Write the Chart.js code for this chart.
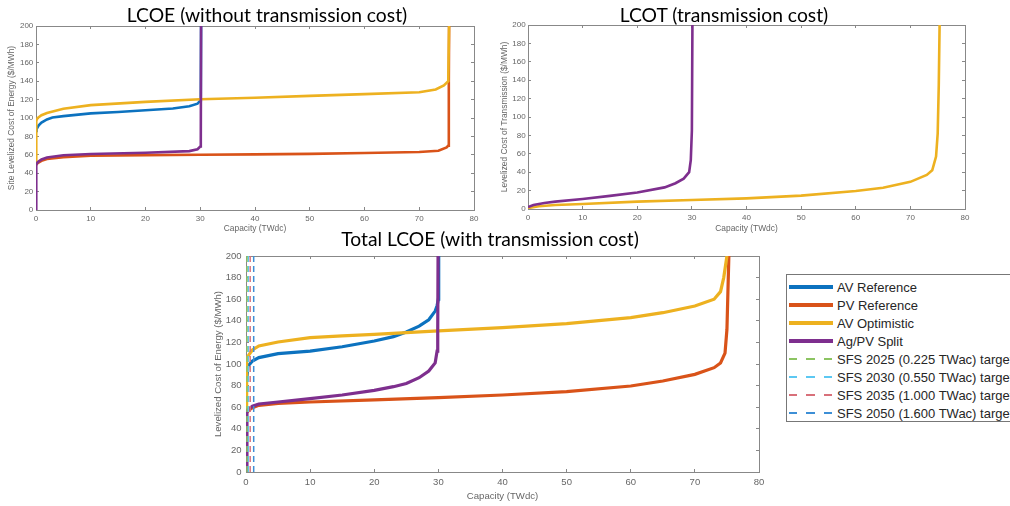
<!DOCTYPE html>
<html>
<head>
<meta charset="utf-8">
<script src="https://cdn.jsdelivr.net/npm/chart.js@4.4.1/dist/chart.umd.min.js"></script>
<style>
  body { margin: 0; width: 1010px; height: 506px; position: relative; overflow: hidden; background: #fff; }
  canvas { position: absolute; }
  .title { position: absolute; width: 400px; margin-left: -200px; text-align: center; font-family: Lato, "Open Sans", sans-serif; font-size: 19.3px; line-height: 1; color: #000; white-space: nowrap; }
  #legend { position: absolute; left: 786px; top: 274px; width: 240px; height: 143px; border: 1px solid #777; padding-top: 3px; box-sizing: content-box; font-family: "Liberation Sans", Arial, sans-serif; font-size: 13px; color: #262626; }
  #legend .row { height: 18px; display: flex; align-items: center; white-space: nowrap; }
  #legend .sw { width: 44px; margin: 0 4px 0 2px; flex: none; }
</style>
</head>
<body>
<canvas id="lcoeChart" width="490" height="234" style="left:0; top:0;"></canvas>
<canvas id="lcotChart" width="520" height="234" style="left:490px; top:0;"></canvas>
<canvas id="totalChart" width="580" height="272" style="left:200px; top:230px;"></canvas>

<div class="title" style="left:267px; top:4.6px;">LCOE (without transmission cost)</div>
<div class="title" style="left:724px; top:4.6px;">LCOT (transmission cost)</div>
<div class="title" style="left:490px; top:228.6px;">Total LCOE (with transmission cost)</div>
<div id="legend"></div>

<script>
// capacity (TWdc), cost ($/MWh) pairs

// LCOE without transmission
const lcoeAvRef = [[0, 86], [0.1, 88], [0.5, 92], [1, 95], [2, 98.4], [3, 100.5], [5, 102], [10, 105], [15, 106.5],
    [20, 108.5], [25, 110.3], [28, 112.8], [29.5, 115.5], [30, 119], [30.1, 122], [30.15, 200]];
const lcoePvRef = [[0, 49], [0.3, 51], [1, 53.5], [2, 55.5], [5, 57.5], [10, 59], [20, 59.7], [30, 60], [40, 60.5],
    [50, 61], [60, 62], [70, 63], [73.5, 64.4], [75, 68], [75.3, 70], [75.4, 140], [75.45, 200]];
const lcoeAvOpt = [[0, 50], [0.05, 97], [0.3, 100], [1, 103], [2, 105.5], [5, 110], [10, 114], [20, 117.5], [30, 120.4],
    [40, 122], [50, 124], [60, 126], [70, 128], [73, 131], [74.5, 135.5], [75.3, 140], [75.45, 200]];
const lcoeSplit = [[0, 0], [0.05, 49], [0.3, 52], [1, 55], [2, 57], [5, 59.5], [10, 60.8], [20, 62.2], [28, 64],
    [29.5, 66], [30, 69], [30.1, 75], [30.15, 200]];

// LCOT (transmission cost): Ag/PV split and AV optimistic curves
const lcotSplit = [[0, 2], [1, 4.3], [3, 6.5], [5, 8], [10, 10.9], [15, 14.3], [20, 18], [25, 23.5], [27, 28],
    [28.5, 33], [29.5, 40], [29.8, 53], [30, 85], [30.1, 200]];
const lcotAvOpt = [[0, 1], [2, 3], [5, 4.3], [10, 5.5], [20, 8], [30, 9.8], [40, 11.6], [50, 14.5], [60, 19.5],
    [65, 23], [70, 29.5], [73, 37], [74, 42], [74.7, 57], [75, 82], [75.2, 135], [75.35, 200]];

// Total LCOE with transmission
const totAvRef = [[0.15, 88], [0.3, 98], [1, 102.8], [2, 105.9], [5, 109.6], [10, 112], [15, 116], [20, 121.3],
    [23, 125.3], [25, 129.6], [27, 135], [28.5, 141], [29.5, 149], [29.8, 154], [30, 160], [30.05, 200]];
const totPvRef = [[0.1, 55], [0.5, 57.5], [1, 59.6], [2, 61.7], [5, 63.6], [10, 64.8], [20, 66.7], [30, 68.8],
    [40, 71.3], [50, 74.4], [60, 79.6], [65, 84.3], [70, 90.4], [73, 96.6], [74, 101], [74.7, 110], [75, 132], [75.3, 200]];
const totAvOpt = [[0, 60], [0.1, 105], [0.5, 109], [1, 113], [2, 116.7], [5, 120.4], [10, 124.4], [15, 126], [20, 127.5],
    [25, 129], [30, 130.6], [40, 133.6], [50, 137.3], [60, 142.9], [65, 147.5], [70, 153.7], [73, 160], [74, 167],
    [74.5, 180], [75, 200]];
const totSplit = [[0, 0], [0.15, 57], [1, 61], [2, 63], [5, 64.8], [10, 67.9], [15, 71.3], [20, 75.6], [23, 79],
    [25, 82], [27, 87.3], [28.5, 93.5], [29.5, 101], [29.8, 112], [29.9, 130], [29.95, 200]];

// SFS targets (capacity position of the dashed lines)
const sfsTargets = [0.15, 0.35, 0.65, 1.2];
const sfsLabels = ["SFS 2025 (0.225 TWac) target", "SFS 2030 (0.550 TWac) target",
    "SFS 2035 (1.000 TWac) target", "SFS 2050 (1.600 TWac) target"];
const seriesLabels = ["AV Reference", "PV Reference", "AV Optimistic", "Ag/PV Split"];

const xTickStep = 10;
const yTickStep = 20;

const BLUE = "#0c72bf", RED = "#d95319", YELLOW = "#edb120", PURPLE = "#7e2f8e";
const seriesColors = [BLUE, RED, YELLOW, PURPLE];
const sfsColors = ["#8cc462", "#5cc8f2", "#d8707a", "#3d8fd6"];
const FONT = '"Liberation Sans", Arial, sans-serif';

const toXY = arr => arr.map(p => ({ x: p[0], y: p[1] }));

function curve(arr, color, width) {
    return { data: toXY(arr), borderColor: color, borderWidth: width, showLine: true, pointRadius: 0, tension: 0 };
}

function makeChart(id, datasets, c) {
    const grid = { drawOnChartArea: false, drawTicks: true, tickLength: -3, color: "#888", lineWidth: 1 };
    const border = { display: true, color: "#888", width: 1 };
    return new Chart(document.getElementById(id), {
        type: "scatter",
        data: { datasets },
        options: {
            responsive: false,
            animation: false,
            events: [],
            devicePixelRatio: 1,
            layout: { padding: c.pad },
            plugins: { legend: { display: false }, tooltip: { enabled: false } },
            scales: {
                x: {
                    type: "linear", min: 0, max: 80,
                    ticks: { stepSize: xTickStep, font: { size: c.tick, family: FONT }, padding: c.xPad, maxRotation: 0 },
                    grid, border,
                    title: { display: true, text: "Capacity (TWdc)", font: { size: c.ttl, family: FONT }, padding: 0 },
                    afterFit: s => { s.height = c.xh; }
                },
                y: {
                    type: "linear", min: 0, max: 200,
                    ticks: { stepSize: yTickStep, font: { size: c.tick, family: FONT }, padding: c.yPad },
                    grid, border,
                    title: { display: true, text: c.yTitle, font: { size: c.ttl, family: FONT }, padding: 0 },
                    afterFit: s => { s.width = c.yw; }
                },
                x2: {
                    type: "linear", position: "top", min: 0, max: 80,
                    ticks: { display: false, stepSize: xTickStep },
                    grid, border,
                    afterFit: s => { s.height = 0; }
                },
                y2: {
                    type: "linear", position: "right", min: 0, max: 200,
                    ticks: { display: false, stepSize: yTickStep },
                    grid, border,
                    afterFit: s => { s.width = 0; }
                }
            }
        }
    });
}

// first dataset is drawn on top
makeChart("lcotChart", [
    curve(lcotSplit, PURPLE, 2.6),
    curve(lcotAvOpt, YELLOW, 2.6)
], { pad: { left: 10, top: 25, right: 45, bottom: 0 }, yw: 28, xh: 25, tick: 8, ttl: 8.4, xPad: 6.5, yPad: 5.3,
     yTitle: "Levelized Cost of Transmission ($/MWh)" });

makeChart("lcoeChart", [
    curve(lcoeSplit, PURPLE, 2.6),
    curve(lcoeAvOpt, YELLOW, 2.6),
    curve(lcoePvRef, RED, 2.6),
    curve(lcoeAvRef, BLUE, 2.6)
], { pad: { left: 7, top: 26, right: 16, bottom: 0 }, yw: 29, xh: 24, tick: 8, ttl: 8.4, xPad: 6.5, yPad: 5.7,
     yTitle: "Site Levelized Cost of Energy ($/MWh)" });

const sfsSets = sfsTargets.map((v, i) => ({
    data: [{ x: v, y: 0 }, { x: v, y: 200 }],
    borderColor: sfsColors[i], borderWidth: 1.5, borderDash: [6, 4], showLine: true, pointRadius: 0
}));

makeChart("totalChart", [
    ...sfsSets,
    curve(totSplit, PURPLE, 3.2),
    curve(totAvOpt, YELLOW, 3.2),
    curve(totPvRef, RED, 3.2),
    curve(totAvRef, BLUE, 3.2)
], { pad: { left: 13, top: 26, right: 21, bottom: 0 }, yw: 33, xh: 30, tick: 9.5, ttl: 9.6, xPad: 7.3, yPad: 7.5,
     yTitle: "Levelized Cost of Energy ($/MWh)" });

// legend
const legendBox = document.getElementById("legend");
seriesLabels.forEach((name, i) => {
    legendBox.innerHTML += `<div class="row"><span class="sw" style="height:4px;background:${seriesColors[i]}"></span>${name}</div>`;
});
sfsLabels.forEach((name, i) => {
    legendBox.innerHTML += `<div class="row"><span class="sw" style="height:2px;background:repeating-linear-gradient(to right, ${sfsColors[i]} 0 8px, transparent 8px 17.5px)"></span>${name}</div>`;
});
</script>
</body>
</html>
